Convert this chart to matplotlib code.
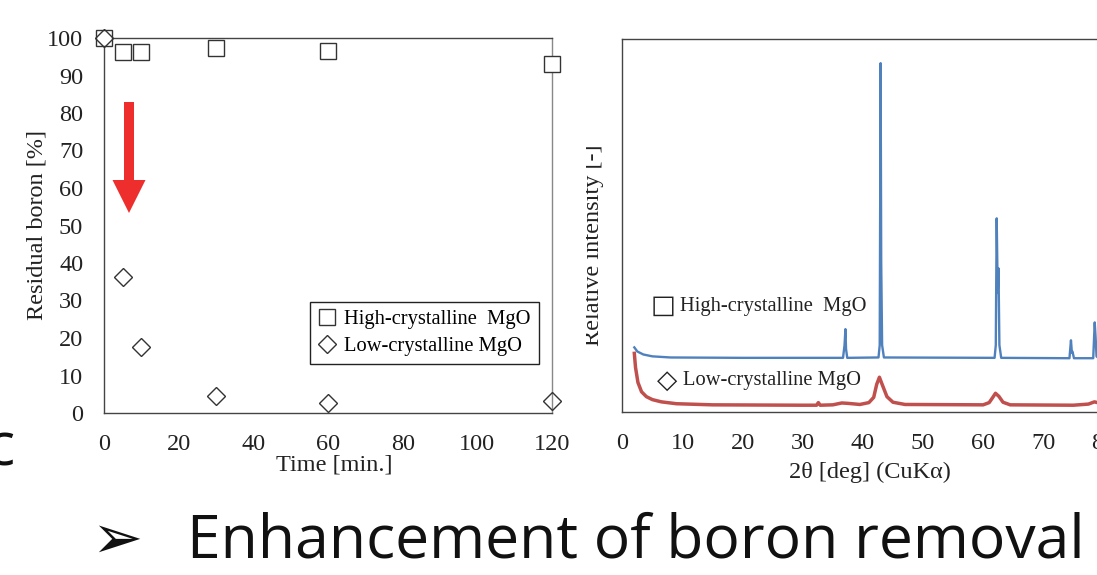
import matplotlib
matplotlib.use("Agg")
import matplotlib.pyplot as plt
from matplotlib.patches import FancyArrow, Rectangle

# ---------------- data ----------------
time_min = [0, 5, 10, 30, 60, 120]
high_cryst = [100, 96.2, 96.4, 97.3, 96.6, 93.2]
low_cryst = [100, 36.2, 17.7, 4.5, 2.6, 3.3]
time_ticks = [0, 20, 40, 60, 80, 100, 120]
boron_ticks = [0, 10, 20, 30, 40, 50, 60, 70, 80, 90, 100]

# XRD traces (2theta [deg], relative intensity)
xrd_high_x = [2.0, 2.5, 3.5, 5, 8, 20, 36.7, 36.95, 37.1, 37.2, 37.4,
              42.6, 42.8, 42.95, 43.05, 43.2, 43.5,
              61.9, 62.1, 62.25, 62.42, 62.55, 62.7, 63.0,
              74.35, 74.6, 74.75, 74.85, 75.1,
              78.3, 78.55, 78.7, 78.85, 79.2, 90]
xrd_high_y = [17.4, 16.3, 15.5, 15.0, 14.7, 14.6, 14.6, 18.0, 22.3, 17.0, 14.6,
              14.7, 18.0, 93.6, 40.0, 18.0, 14.7,
              14.6, 18.0, 52.0, 32.0, 38.6, 18.0, 14.6,
              14.5, 19.3, 16.0, 16.3, 14.5,
              14.5, 24.1, 20.0, 15.0, 14.5, 14.5]
xrd_low_x = [2.0, 2.2, 2.6, 3.2, 4, 5, 6.5, 9, 15, 30, 32.3, 32.6, 32.9,
             35, 36.5, 37.5, 39.5, 41, 41.8, 42.3, 42.75, 43.2, 44, 45, 47,
             60, 61, 61.6, 62.05, 62.6, 63.3, 64.5, 75, 77.5, 78.5, 79.5, 90]
xrd_low_y = [15.8, 12.0, 8.0, 5.5, 4.2, 3.4, 2.8, 2.3, 2.0, 1.9, 1.9, 2.6, 1.9,
             2.0, 2.5, 2.4, 2.1, 2.6, 4.0, 7.5, 9.4, 7.5, 4.2, 2.7, 2.1,
             2.0, 2.6, 4.0, 5.1, 4.3, 2.7, 2.0, 1.9, 2.2, 2.8, 2.4, 2.0]
two_theta_ticks = [0, 10, 20, 30, 40, 50, 60, 70, 80, 90]

W, H = 1097, 575
fig = plt.figure(figsize=(W / 100, H / 100), dpi=100)
fig.patch.set_facecolor("white")

SERIF = ["Liberation Serif", "DejaVu Serif"]
TFS = 17.5
LFS = 14.8
SPC = "#444444"
TXT = "#222222"


def fx(px):
    return px / W


def fy(py):
    return 1 - py / H


# ---------------- left chart ----------------
axL = fig.add_axes([fx(104), fy(413), fx(552 - 104), (413 - 38) / H])
axL.plot(time_min, high_cryst, linestyle="none", marker="s", markersize=12.2,
         markerfacecolor="white", markeredgecolor="#333333", markeredgewidth=1.0,
         label="High-crystalline  MgO", clip_on=False, zorder=3)
axL.plot(time_min, low_cryst, linestyle="none", marker="D", markersize=9.0,
         markerfacecolor="none", markeredgecolor="#333333", markeredgewidth=1.0,
         label="Low-crystalline MgO", clip_on=False, zorder=4)
axL.set_xlim(0, 120)
axL.set_ylim(0, 100)
axL.set_xticks(time_ticks)
axL.set_yticks(boron_ticks)
axL.tick_params(length=0, pad=15, labelsize=TFS, colors=TXT)
for lab in axL.get_xticklabels() + axL.get_yticklabels():
    lab.set_fontfamily(SERIF)
for s in axL.spines.values():
    s.set_color(SPC)
    s.set_linewidth(1.0)
axL.spines["right"].set_color("#888888")

leg = axL.legend(loc="lower right", bbox_to_anchor=(fx(539), fy(364)),
                 bbox_transform=fig.transFigure, frameon=True, fancybox=False,
                 edgecolor="#222222", framealpha=1, handlelength=0.8,
                 handletextpad=0.45, borderpad=0.4, labelspacing=0.35,
                 prop={"family": SERIF, "size": LFS}, borderaxespad=0)
leg.get_frame().set_linewidth(1.0)

fig.text(fx(37), fy(225), "Residual boron [%]", rotation=90, ha="center",
         va="center", fontsize=TFS, family=SERIF, color=TXT)
fig.text(fx(334), fy(465), "Time [min.]", ha="center", va="center",
         fontsize=TFS, family=SERIF, color=TXT)

# red arrow
fig.patches.append(FancyArrow(fx(129), fy(102), 0, -(213 - 102) / H,
                              width=10 / W, head_width=33 / W,
                              head_length=33 / H, length_includes_head=True,
                              transform=fig.transFigure, color="#EE2D2D",
                              linewidth=0))

# ---------------- right chart ----------------
ppd = (1043.3 - 622.3) / 70.0
right_px = 622.3 + 90 * ppd
axR = fig.add_axes([fx(622.3), fy(412.3), fx(right_px - 622.3), (412.3 - 39.3) / H])
axR.plot(xrd_high_x, xrd_high_y, color="#4F81BD", linewidth=1.7)
axR.plot(xrd_low_x, xrd_low_y, color="#C0504D", linewidth=2.5)
axR.set_xlim(0, 90)
axR.set_ylim(0, 100)
axR.set_xticks(two_theta_ticks)
axR.set_yticks([])
axR.tick_params(length=0, pad=15, labelsize=TFS, colors=TXT)
for lab in axR.get_xticklabels():
    lab.set_fontfamily(SERIF)
for s in axR.spines.values():
    s.set_color(SPC)
    s.set_linewidth(1.0)

fig.text(fx(663.5), fy(306), "\u25a1", ha="center", va="center", fontsize=19,
         family=["DejaVu Sans"], color=TXT)
fig.text(fx(680), fy(306), "High-crystalline  MgO", ha="left",
         va="center", fontsize=LFS, family=SERIF, color=TXT)
fig.text(fx(667), fy(381), "\u25c7", ha="center", va="center", fontsize=19,
         family=["DejaVu Sans"], color=TXT)
fig.text(fx(683), fy(381), "Low-crystalline MgO", ha="left",
         va="center", fontsize=LFS, family=SERIF, color=TXT)
fig.text(fx(870), fy(472), "2\u03b8 [deg] (CuK\u03b1)", ha="center",
         va="center", fontsize=TFS, family=SERIF, color=TXT)
yl = fig.text(fx(594), fy(245), "Relative intensity [-]", rotation=90,
              ha="center", va="center", fontsize=TFS, family=SERIF,
              color=TXT)
yl.set_clip_path(Rectangle((fx(586), 0), 1, 1, transform=fig.transFigure))

# ---------------- slide text ----------------
SANS = ["Open Sans", "DejaVu Sans"]
fig.text(fx(117), fy(541), "\u27a2", ha="center", va="center", fontsize=44,
         family=["DejaVu Sans"], color="#111111")
body = fig.text(fx(187), fy(542), "Enhancement of boron removal", ha="left",
                va="center", fontsize=40, family=SANS, color="#111111")
fig.text(fx(15), fy(465), "c", ha="right", va="baseline", fontsize=44,
         family=SANS, color="#111111")

# fit body text width to slide
fig.canvas.draw()
bb = body.get_window_extent()
target = 1084 - 187
body.set_fontsize(40 * target / bb.width)

fig.savefig("out.png", dpi=100, facecolor="white")
